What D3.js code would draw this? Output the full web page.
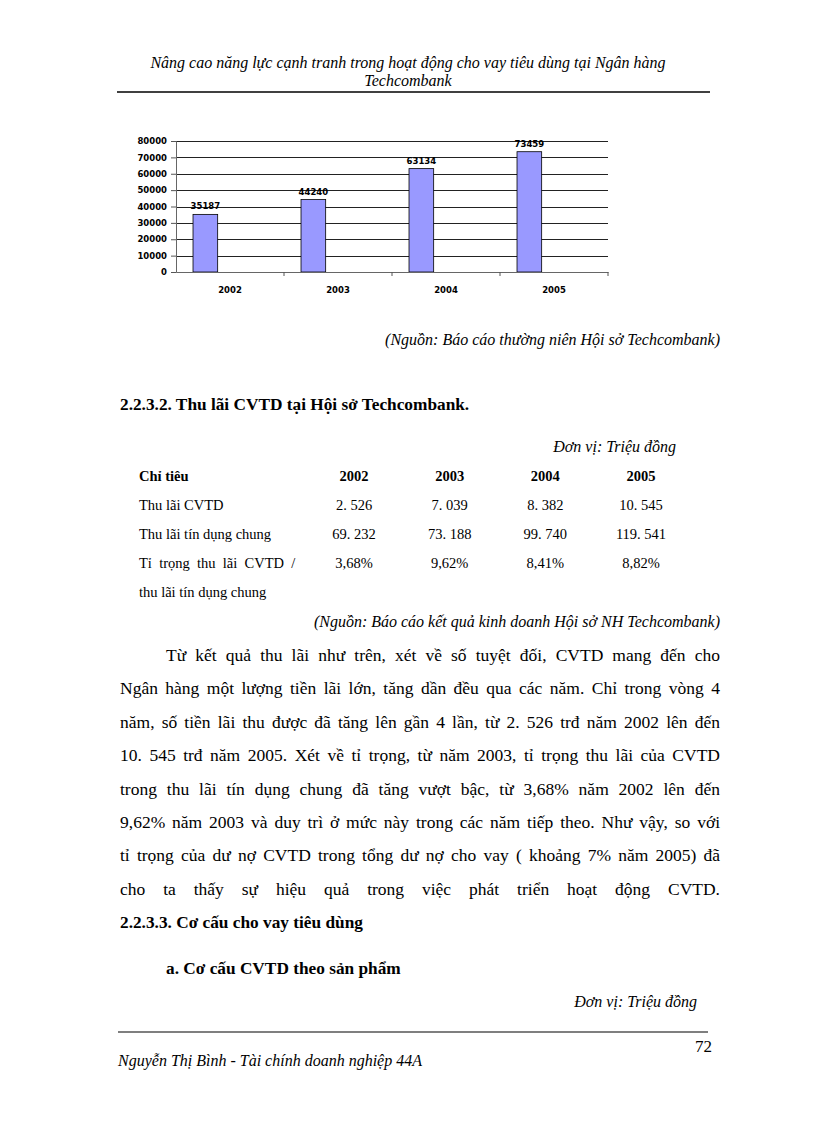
<!DOCTYPE html>
<meta charset="utf-8">
<style>
    body { margin: 0; background: #fff; }
    svg { display: block; }
    .serif { font-family: "Liberation Serif", "Times New Roman", serif; fill: #000; }
    .chart text { font-family: "DejaVu Sans", Verdana, sans-serif; font-weight: bold; font-size: 8.5px; fill: #000; }
</style>
<svg width="816" height="1123"></svg>
<script src="https://d3js.org/d3.v7.min.js"></script>
<script>
    // chart data (du no CVTD, trieu dong)
    var years = ["2002", "2003", "2004", "2005"];
    var loanValues = [35187, 44240, 63134, 73459];
    var yTickValues = [0, 10000, 20000, 30000, 40000, 50000, 60000, 70000, 80000];

    // table 2.2.3.2
    var tableHeader = ["Chỉ tiêu", "2002", "2003", "2004", "2005"];
    var rowLabels = ["Thu lãi CVTD", "Thu lãi tín dụng chung", "Tỉ  trọng  thu  lãi  CVTD  /"];
    var thuLaiCVTD = ["2. 526", "7. 039", "8. 382", "10. 545"];
    var thuLaiChung = ["69. 232", "73. 188", "99. 740", "119. 541"];
    var tiTrong = ["3,68%", "9,62%", "8,41%", "8,82%"];

    var paragraph = [
        "Từ kết quả thu lãi như trên, xét về số tuyệt đối, CVTD mang đến cho",
        "Ngân hàng một lượng tiền lãi lớn, tăng dần đều qua các năm. Chỉ trong vòng 4",
        "năm, số tiền lãi thu được đã tăng lên gần 4 lần, từ 2. 526 trđ năm 2002 lên đến",
        "10. 545 trđ năm 2005. Xét về tỉ trọng, từ năm 2003, tỉ trọng thu lãi của CVTD",
        "trong thu lãi tín dụng chung đã tăng vượt bậc, từ 3,68% năm 2002 lên đến",
        "9,62% năm 2003 và duy trì ở mức này trong các năm tiếp theo. Như vậy, so với",
        "tỉ trọng của dư nợ CVTD trong tổng dư nợ cho vay ( khoảng 7% năm 2005) đã",
        "cho ta thấy sự hiệu quả trong việc phát triển hoạt động CVTD."
    ];

    var svg = d3.select("svg");
    svg.append("rect").attr("width", 816).attr("height", 1123).attr("fill", "#fff");

    // ---- page header ----
    var page = svg.append("g").attr("class", "serif");

    page.append("text")
        .attr("x", 408).attr("y", 68)
        .attr("text-anchor", "middle")
        .style("font-style", "italic").style("font-size", "16px")
        .text("Nâng cao năng lực cạnh tranh trong hoạt động cho vay tiêu dùng tại  Ngân hàng");
    page.append("text")
        .attr("x", 408).attr("y", 86)
        .attr("text-anchor", "middle")
        .style("font-style", "italic").style("font-size", "16px")
        .text("Techcombank");
    page.append("line")
        .attr("x1", 117).attr("x2", 710).attr("y1", 92).attr("y2", 92)
        .attr("stroke", "#000").attr("stroke-width", 1.5);

    // ---- bar chart ----
    var margin = {left: 176, right: 608, top: 141, bottom: 272};

    var x = d3.scaleBand()
        .domain(years)
        .range([margin.left, margin.right])
        .paddingInner(0)
        .paddingOuter(0);

    // excel style cluster: three slots per category, only the first is used
    var slot = d3.scaleBand()
        .domain([0, 1, 2])
        .range([0, x.bandwidth()])
        .paddingInner(0)
        .paddingOuter(0.69);

    var y = d3.scaleLinear()
        .domain([0, 80000])
        .range([margin.bottom, margin.top]);

    var chart = svg.append("g").attr("class", "chart");

    chart.append("g")
        .selectAll("line")
        .data(yTickValues.slice(1))
        .enter().append("line")
        .attr("x1", margin.left).attr("x2", margin.right)
        .attr("y1", function (d) { return Math.round(y(d)) + 0.5; })
        .attr("y2", function (d) { return Math.round(y(d)) + 0.5; })
        .attr("stroke", "#222").attr("stroke-width", 1);

    chart.append("g")
        .selectAll("rect")
        .data(loanValues)
        .enter().append("rect")
        .attr("x", function (d, i) { return x(years[i]) + slot(0); })
        .attr("y", function (d) { return y(d); })
        .attr("width", slot.bandwidth())
        .attr("height", function (d) { return y(0) - y(d); })
        .attr("fill", "#9999ff")
        .attr("stroke", "#000").attr("stroke-width", 0.8);

    chart.append("g")
        .selectAll("text")
        .data(loanValues)
        .enter().append("text")
        .attr("x", function (d, i) { return x(years[i]) + slot(0) + slot.bandwidth() / 2; })
        .attr("y", function (d) { return y(d) - 5; })
        .attr("text-anchor", "middle")
        .text(function (d) { return d; });

    var yAxis = chart.append("g")
        .attr("transform", "translate(" + margin.left + ",0)")
        .call(d3.axisLeft(y).tickValues(yTickValues).tickSize(5).tickPadding(4).tickFormat(d3.format("d")));

    var xAxis = chart.append("g")
        .attr("transform", "translate(0," + margin.bottom + ")")
        .call(d3.axisBottom(x).tickSize(0).tickPadding(18));

    // category boundary ticks
    chart.append("g")
        .selectAll("line")
        .data(years.slice(1).concat(["end"]))
        .enter().append("line")
        .attr("x1", function (d, i) { return margin.left + (i + 1) * x.step(); })
        .attr("x2", function (d, i) { return margin.left + (i + 1) * x.step(); })
        .attr("y1", margin.bottom).attr("y2", margin.bottom + 4)
        .attr("stroke", "#555");

    [yAxis, xAxis].forEach(function (ax) {
        ax.select(".domain").attr("stroke", "#666");
        ax.selectAll(".tick line").attr("stroke", "#555");
        ax.selectAll("text")
            .style("font-family", "DejaVu Sans, Verdana, sans-serif")
            .style("font-weight", "bold").style("font-size", "8.5px");
    });
    xAxis.selectAll("text").attr("dy", "0.35em");

    // ---- source and section 2.2.3.2 ----
    page.append("text")
        .attr("x", 720).attr("y", 345)
        .attr("text-anchor", "end")
        .style("font-style", "italic").style("font-size", "16px")
        .text("(Nguồn: Báo cáo thường niên Hội sở Techcombank)");

    page.append("text")
        .attr("x", 120).attr("y", 410)
        .style("font-weight", "bold").style("font-size", "17.3px")
        .text("2.2.3.2. Thu lãi CVTD tại Hội sở Techcombank.");

    page.append("text")
        .attr("x", 676).attr("y", 452)
        .attr("text-anchor", "end")
        .style("font-style", "italic").style("font-size", "16px")
        .text("Đơn vị: Triệu đồng");

    // ---- table ----
    var colX = d3.scalePoint().domain(tableHeader.slice(1)).range([354, 641]);
    var rowY = d3.scaleLinear().domain([0, 1]).range([481, 510]);
    var table = page.append("g").style("font-size", "14.5px");

    table.append("text").attr("x", 139).attr("y", rowY(0))
        .style("font-weight", "bold").text(tableHeader[0]);
    table.selectAll(".yr")
        .data(tableHeader.slice(1))
        .enter().append("text")
        .attr("class", "yr")
        .attr("x", function (d) { return colX(d); })
        .attr("y", rowY(0))
        .attr("text-anchor", "middle")
        .style("font-weight", "bold")
        .text(function (d) { return d; });

    [thuLaiCVTD, thuLaiChung, tiTrong].forEach(function (row, r) {
        table.append("text").attr("x", 139).attr("y", rowY(r + 1))
            .attr("xml:space", "preserve")
            .style("white-space", "pre")
            .text(rowLabels[r]);
        table.selectAll(".r" + r)
            .data(row)
            .enter().append("text")
            .attr("class", "r" + r)
            .attr("x", function (d, i) { return colX(tableHeader[i + 1]); })
            .attr("y", rowY(r + 1))
            .attr("text-anchor", "middle")
            .text(function (d) { return d; });
    });
    table.append("text").attr("x", 139).attr("y", rowY(4))
        .text("thu lãi tín dụng chung");

    page.append("text")
        .attr("x", 720).attr("y", 627)
        .attr("text-anchor", "end")
        .style("font-style", "italic").style("font-size", "16px")
        .text("(Nguồn: Báo cáo kết quả kinh doanh Hội sở NH Techcombank)");

    // ---- body paragraph, justified word by word ----
    var lineH = 33.4, firstY = 661, left = 120, right = 720, indent = 166;
    var body = page.append("g").style("font-size", "17.5px");

    paragraph.forEach(function (line, li) {
        var words = line.split(" ");
        var x0 = li === 0 ? indent : left;
        var tmp = body.selectAll(null).data(words).enter().append("text")
            .attr("y", firstY + li * lineH)
            .text(function (d) { return d; });
        var widths = [];
        tmp.each(function () { widths.push(this.getComputedTextLength()); });
        var gap = (right - x0 - d3.sum(widths)) / (words.length - 1);
        var cx = x0;
        tmp.attr("x", function (d, i) {
            var p = cx;
            cx += widths[i] + gap;
            return p;
        });
    });

    page.append("text")
        .attr("x", left).attr("y", firstY + paragraph.length * lineH)
        .style("font-weight", "bold").style("font-size", "17.3px")
        .text("2.2.3.3. Cơ cấu cho vay tiêu dùng");

    page.append("text")
        .attr("x", 166).attr("y", 974)
        .style("font-weight", "bold").style("font-size", "17.3px")
        .text("a. Cơ cấu CVTD theo sản phẩm");

    page.append("text")
        .attr("x", 697).attr("y", 1007)
        .attr("text-anchor", "end")
        .style("font-style", "italic").style("font-size", "16px")
        .text("Đơn vị: Triệu đồng");

    // ---- footer ----
    page.append("line")
        .attr("x1", 118).attr("x2", 708).attr("y1", 1032).attr("y2", 1032)
        .attr("stroke", "#000").attr("stroke-width", 1.2);
    page.append("text")
        .attr("x", 712).attr("y", 1052)
        .attr("text-anchor", "end")
        .style("font-size", "17px")
        .text("72");
    page.append("text")
        .attr("x", 118).attr("y", 1066)
        .style("font-style", "italic").style("font-size", "16px")
        .text("Nguyễn Thị Bình - Tài chính doanh nghiệp 44A");
</script>
